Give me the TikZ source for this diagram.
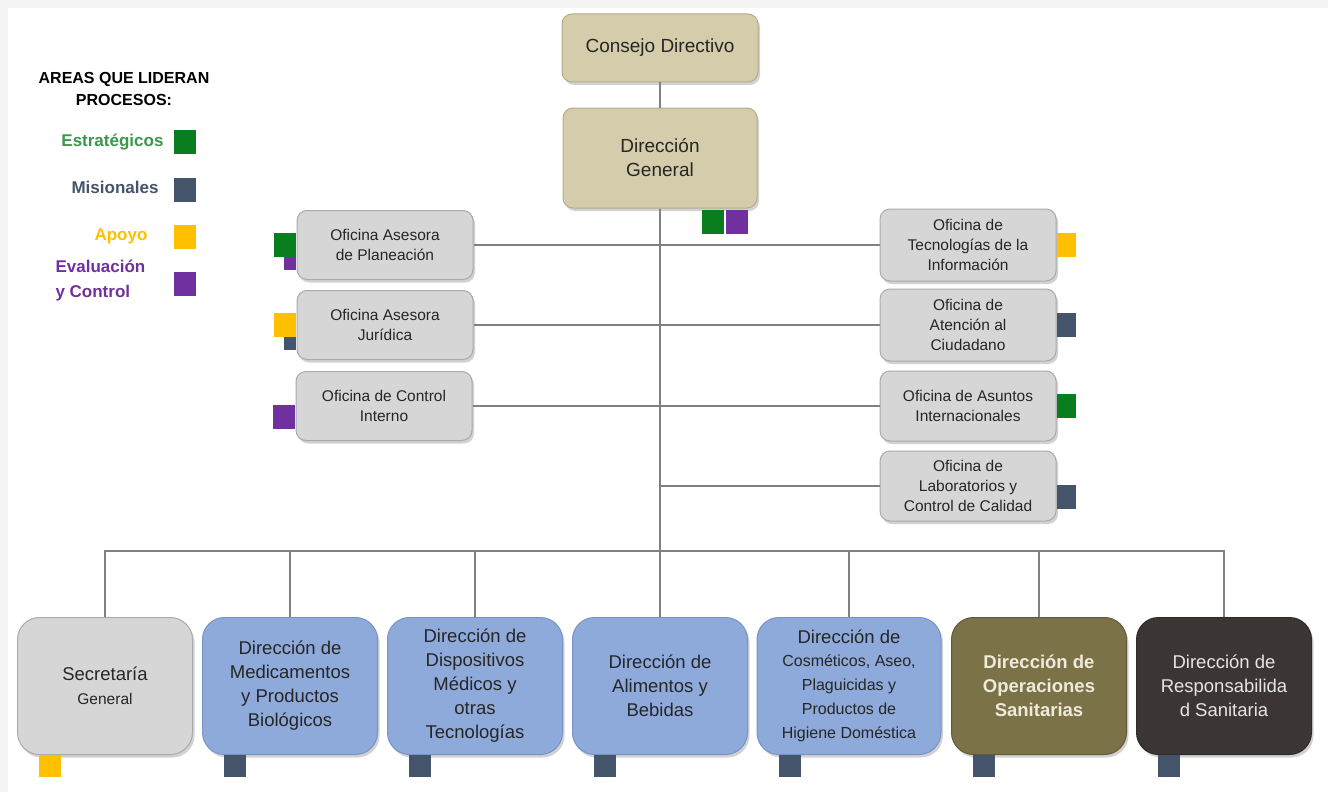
\documentclass[tikz,border=0pt]{standalone}
\usepackage{fontspec}
\setmainfont{Liberation Sans}
\usetikzlibrary{positioning, shadows}
\definecolor{fondo}{RGB}{244,244,244}
\definecolor{arena}{RGB}{212,204,170}
\definecolor{arenaborde}{RGB}{180,172,138}
\definecolor{gris}{RGB}{214,214,214}
\definecolor{grisborde}{RGB}{170,170,170}
\definecolor{azul}{RGB}{142,170,219}
\definecolor{azulborde}{RGB}{120,146,196}
\definecolor{oliva}{RGB}{123,114,72}
\definecolor{oscuro}{RGB}{59,54,52}
\definecolor{linea}{RGB}{128,128,128}
\definecolor{estr}{RGB}{10,125,30}
\definecolor{misi}{RGB}{68,84,106}
\definecolor{apoyo}{RGB}{255,192,0}
\definecolor{evalu}{RGB}{112,48,160}

\begin{document}
\begin{tikzpicture}[x=1pt, y=-1pt,
  caja/.style={draw=arenaborde, fill=arena, rounded corners=10pt, line width=1pt,
    drop shadow={shadow xshift=2pt, shadow yshift=-3pt, opacity=0.35},
    text=black!85, align=center, inner sep=0pt},
  ofi/.style={draw=grisborde, fill=gris, rounded corners=10pt, line width=1pt,
    minimum width=176pt, minimum height=69pt,
    drop shadow={shadow xshift=2pt, shadow yshift=-3pt, opacity=0.35},
    text=black!85, align=center, inner sep=0pt,
    font=\fontsize{15.5}{20}\selectfont},
  dir/.style={rounded corners=22pt, line width=1pt,
    minimum width=175pt, minimum height=137pt,
    drop shadow={shadow xshift=2pt, shadow yshift=-3pt, opacity=0.35},
    align=center, inner sep=0pt, font=\fontsize{18.5}{24}\selectfont},
  sq/.style={minimum width=22pt, minimum height=24pt, inner sep=0pt},
  sqs/.style={minimum width=12pt, minimum height=13pt, inner sep=0pt},
  con/.style={draw=linea, line width=2pt}]

  % fondo
  \fill[fondo] (0,0) rectangle (1328,792);
  \fill[white] (8,8) rectangle (1328,792);
  \useasboundingbox (0,0) rectangle (1328,792);

  % leyenda
  \node[font=\bfseries\fontsize{16}{22}\selectfont, align=center] (ley) at (124,89) {AREAS QUE LIDERAN\\PROCESOS:};
  \node[sq, fill=estr] (lsq1) at (185,142) {};
  \node[sq, fill=misi] (lsq2) at (185,190) {};
  \node[sq, fill=apoyo] (lsq3) at (185,237) {};
  \node[sq, fill=evalu] (lsq4) at (185,284) {};
  \node[font=\bfseries\fontsize{17}{22}\selectfont, text=estr!80!white, anchor=east] (lt1) at (167,142) {Estratégicos};
  \node[font=\bfseries\fontsize{17}{22}\selectfont, text=misi, anchor=east] (lt2) at (162,187) {Misionales};
  \node[font=\bfseries\fontsize{17}{22}\selectfont, text=apoyo, anchor=east] (lt3) at (151,236) {Apoyo};
  \node[font=\bfseries\fontsize{17}{25}\selectfont, text=evalu, align=left, anchor=west] (lt4) at (52,281) {Evaluación\\y Control};

  % direccion
  \node[caja, minimum width=196pt, minimum height=68pt, font=\fontsize{19}{24}\selectfont] (cd) at (660,48) {Consejo Directivo};
  \node[caja, minimum width=194pt, minimum height=100pt, font=\fontsize{19}{24}\selectfont] (dg) at (660,158) {Dirección\\General};

  % oficinas
  \node[ofi] (pla) at (385,245) {Oficina Asesora\\de Planeación};
  \node[ofi] (jur) at (385,325) {Oficina Asesora\\Jurídica};
  \node[ofi] (cin) at (384,406) {Oficina de Control\\Interno};
  \node[ofi, minimum height=72pt] (tec) at (968,245) {Oficina de\\Tecnologías de la\\Información};
  \node[ofi, minimum height=72pt] (ate) at (968,325) {Oficina de\\Atención al\\Ciudadano};
  \node[ofi, minimum height=70pt] (asu) at (968,406) {Oficina de Asuntos\\Internacionales};
  \node[ofi, minimum height=70pt] (lab) at (968,486) {Oficina de\\Laboratorios y\\Control de Calidad};

  % direcciones tecnicas
  \node[dir, draw=grisborde, fill=gris, text=black!85] (sec) at (105,686) {Secretaría\\{\fontsize{15.5}{20}\selectfont General}};
  \node[dir, draw=azulborde, fill=azul, text=black!85] (med) at (290,686) {Dirección de\\Medicamentos\\y Productos\\Biológicos};
  \node[dir, draw=azulborde, fill=azul, text=black!85] (dis) at (475,686) {Dirección de\\Dispositivos\\Médicos y\\otras\\Tecnologías};
  \node[dir, draw=azulborde, fill=azul, text=black!85] (ali) at (660,686) {Dirección de\\Alimentos y\\Bebidas};
  \node[dir, draw=azulborde, fill=azul, text=black!85, minimum width=184pt] (cos) at (849,686)
    {{\fontsize{18.5}{24}\selectfont Dirección de}\\[-1pt]{\fontsize{16}{24}\selectfont Cosméticos, Aseo,}\\{\fontsize{16}{24}\selectfont Plaguicidas y}\\{\fontsize{16}{24}\selectfont Productos de}\\{\fontsize{16}{24}\selectfont Higiene Doméstica}};
  \node[dir, draw=oliva!80!black, fill=oliva, text=arena!40!white, font=\bfseries\fontsize{18.5}{24}\selectfont] (ope) at (1039,686) {Dirección de\\Operaciones\\Sanitarias};
  \node[dir, draw=oscuro!80!black, fill=oscuro, text=white!90!black] (res) at (1224,686) {Dirección de\\Responsabilida\\d Sanitaria};

  % cuadros de procesos
  \node[sq, fill=estr] (q1) at (713,222) {};
  \node[sq, fill=evalu] (q2) at (737,222) {};
  \node[sq, fill=estr, anchor=east] (q3) at (pla.west) {};
  \node[sqs, fill=evalu, anchor=north east] (q4) at ([yshift=-12pt]pla.west) {};
  \node[sq, fill=apoyo, anchor=east] (q5) at (jur.west) {};
  \node[sqs, fill=misi, anchor=north east] (q6) at ([yshift=-12pt]jur.west) {};
  \node[sq, fill=evalu, anchor=east] (q7) at ([yshift=-11pt]cin.west) {};
  \node[sq, fill=apoyo, anchor=west, minimum width=19pt] (q8) at (tec.east) {};
  \node[sq, fill=misi, anchor=west, minimum width=19pt] (q9) at (ate.east) {};
  \node[sq, fill=estr, anchor=west, minimum width=19pt] (q10) at (asu.east) {};
  \node[sq, fill=misi, anchor=west, minimum width=19pt] (q11) at ([yshift=-11pt]lab.east) {};
  \node[sq, fill=apoyo, anchor=north west, minimum height=22pt] (q12) at ([xshift=22pt]sec.south west) {};
  \foreach \d/\c in {med/misi, dis/misi, ali/misi, cos/misi, ope/misi, res/misi}
    \node[sq, fill=\c, anchor=north west, minimum height=22pt] (q\d) at ([xshift=22pt]\d.south west) {};

  % conectores
  \coordinate (bus) at (660,551);
  \coordinate (jlab) at (660,486);
  \draw[con] (cd) -- (dg);
  \draw[con] (dg) -- (ali);
  \draw[con] (pla.east) -- (tec.west);
  \draw[con] (jur.east) -- (ate.west);
  \draw[con] (cin.east) -- (asu.west);
  \draw[con] (jlab) -- (lab.west);
  \draw[con] (sec.north) |- (bus) -| (res.north);
  \foreach \d in {med, dis, cos, ope}
    \draw[con] (\d.north) -- (\d.north |- bus);
\end{tikzpicture}
\end{document}
